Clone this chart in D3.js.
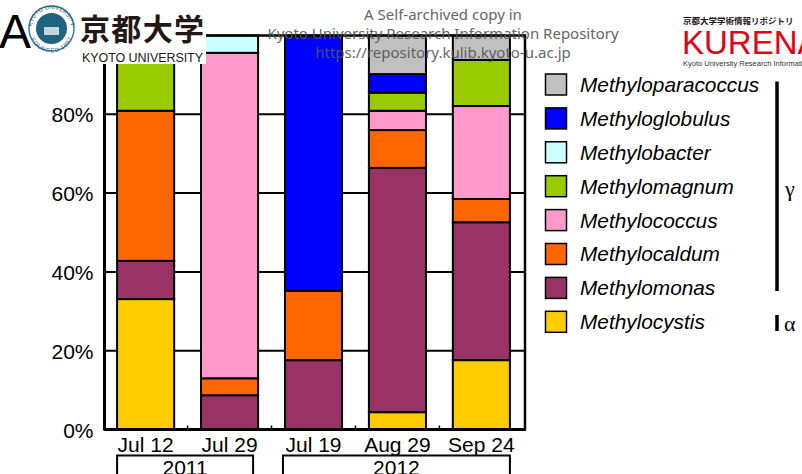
<!DOCTYPE html>
<html>
<head>
<meta charset="utf-8">
<script src="https://cdn.jsdelivr.net/npm/d3@7"></script>
<style>
  html, body { margin: 0; padding: 0; background: #fff; }
  svg { display: block; }
</style>
</head>
<body>
<svg id="chart" width="802" height="474"></svg>
<script>
// Sampling dates and the year each belongs to
const dates = ["Jul 12", "Jul 29", "Jul 19", "Aug 29", "Sep 24"];
const yearGroups = [
  { label: "2011", first: "Jul 12", last: "Jul 29", insetL: 0, insetR: 5 },
  { label: "2012", first: "Jul 19", last: "Sep 24", insetL: -2, insetR: 0 }
];

// Genera, stacked bottom to top
const genera = ["Methylocystis", "Methylomonas", "Methylocaldum", "Methylococcus",
                "Methylomagnum", "Methylobacter", "Methyloglobulus", "Methyloparacoccus"];
const generaColors = ["#FFCC00", "#993366", "#FF6600", "#FF99CC",
                      "#99CC00", "#CCFFFF", "#0000FF", "#C0C0C0"];

// Relative abundance (%) per genus, one value per date
const methylocystis     = [33.1,  0.0,  0.0,  4.4, 17.6];
const methylomonas      = [ 9.7,  8.7, 17.6, 62.0, 35.0];
const methylocaldum     = [38.1,  4.3, 17.6,  9.6,  5.9];
const methylococcus     = [ 0.0, 82.6,  0.0,  4.9, 23.6];
const methylomagnum     = [19.1,  0.0,  0.0,  4.6, 11.7];
const methylobacter     = [ 0.0,  4.4,  0.0,  0.0,  0.0];
const methyloglobulus   = [ 0.0,  0.0, 64.8,  4.7,  0.0];
const methyloparacoccus = [ 0.0,  0.0,  0.0,  9.8,  6.2];

const yTicks = [0, 20, 40, 60, 80];
const yTickLabels = ["0%", "20%", "40%", "60%", "80%"];

const seriesValues = [methylocystis, methylomonas, methylocaldum, methylococcus,
                      methylomagnum, methylobacter, methyloglobulus, methyloparacoccus];

// Build table rows for d3.stack
const table = dates.map((d, i) => {
  const row = { date: d };
  genera.forEach((g, j) => { row[g] = seriesValues[j][i]; });
  return row;
});

const svg = d3.select("#chart");
const plotL = 104.5, plotR = 525, plotT = 35.5, plotB = 429.5;

const x = d3.scaleBand().domain(dates).range([plotL, plotR - 2.5]).paddingInner(0.32).paddingOuter(0.15);
const y = d3.scaleLinear().domain([0, 100]).range([plotB, plotT]);
const color = d3.scaleOrdinal().domain(genera).range(generaColors);

const stacked = d3.stack().keys(genera)(table);

// Horizontal gridlines behind the bars
svg.append("g")
  .selectAll("line")
  .data(yTicks.filter(t => t > 0))
  .join("line")
  .attr("x1", plotL).attr("x2", plotR)
  .attr("y1", d => y(d)).attr("y2", d => y(d))
  .attr("stroke", "#000").attr("stroke-width", 2);

// Stacked bars
svg.append("g")
  .selectAll("g")
  .data(stacked)
  .join("g")
  .attr("fill", d => color(d.key))
  .selectAll("rect")
  .data(d => d.filter(s => s[1] - s[0] > 0))
  .join("rect")
  .attr("x", d => x(d.data.date))
  .attr("width", x.bandwidth())
  .attr("y", d => y(d[1]))
  .attr("height", d => y(d[0]) - y(d[1]))
  .attr("stroke", "#000")
  .attr("stroke-width", 2);

// Frame: left axis, bottom axis, top and right borders
const frame = svg.append("g").attr("fill", "none").attr("stroke", "#000");
frame.append("rect")
  .attr("x", plotL).attr("y", plotT)
  .attr("width", plotR - plotL).attr("height", plotB - plotT)
  .attr("stroke-width", 2.5);
frame.append("line")
  .attr("x1", plotL).attr("x2", plotR).attr("y1", plotB).attr("y2", plotB)
  .attr("stroke-width", 3);
frame.append("line")
  .attr("x1", plotL).attr("x2", plotL).attr("y1", plotT).attr("y2", plotB)
  .attr("stroke-width", 3);

// Small category-boundary ticks on the x axis
const gap = x.step() - x.bandwidth();
svg.append("g")
  .selectAll("line")
  .data(dates.slice(1))
  .join("line")
  .attr("x1", d => x(d) - gap / 2)
  .attr("x2", d => x(d) - gap / 2)
  .attr("y1", plotB).attr("y2", plotB - 4)
  .attr("stroke", "#000").attr("stroke-width", 1.5);

// Y axis labels
const yAxis = d3.axisLeft(y).tickValues(yTicks)
  .tickFormat((d, i) => yTickLabels[i]).tickSize(0).tickPadding(11);
svg.append("g")
  .attr("transform", `translate(${plotL},0)`)
  .call(yAxis)
  .call(g => g.select(".domain").remove())
  .call(g => g.selectAll("text")
    .attr("font-family", "Liberation Sans, Arial, sans-serif")
    .attr("font-size", 21).attr("fill", "#000").attr("dy", "0.36em"));

// X axis labels
const xAxis = d3.axisBottom(x).tickSize(0).tickPadding(8);
svg.append("g")
  .attr("transform", `translate(0,${plotB})`)
  .call(xAxis)
  .call(g => g.select(".domain").remove())
  .call(g => g.selectAll("text")
    .attr("font-family", "Liberation Sans, Arial, sans-serif")
    .attr("font-size", 21).attr("fill", "#000").attr("dy", "0.71em"));

// Year boxes under the dates
const yearG = svg.append("g");
yearGroups.forEach(yg => {
  const x0 = x(yg.first) + yg.insetL, x1 = x(yg.last) + x.bandwidth() - yg.insetR;
  yearG.append("rect")
    .attr("x", x0).attr("y", 455.5)
    .attr("width", x1 - x0).attr("height", 30)
    .attr("fill", "#fff").attr("stroke", "#000").attr("stroke-width", 2);
  yearG.append("text")
    .attr("x", (x0 + x1) / 2).attr("y", 474.5)
    .attr("text-anchor", "middle")
    .attr("font-family", "Liberation Sans, Arial, sans-serif")
    .attr("font-size", 21).text(yg.label);
});

// Legend, top genus first
const legendOrder = genera.slice().reverse();
const legend = svg.append("g");
legendOrder.forEach((g, i) => {
  const cy = 84.5 + i * 33.9;
  legend.append("rect")
    .attr("x", 545.5).attr("y", cy - 10.5)
    .attr("width", 21).attr("height", 21)
    .attr("fill", color(g)).attr("stroke", "#000").attr("stroke-width", 1.5);
  legend.append("text")
    .attr("x", 580).attr("y", cy).attr("dy", "0.36em")
    .attr("font-family", "Liberation Sans, Arial, sans-serif")
    .attr("font-style", "italic")
    .attr("font-size", 20.8).text(g);
});

// Class brackets: gamma and alpha proteobacteria
legend.append("line")
  .attr("x1", 777).attr("x2", 777).attr("y1", 81.5).attr("y2", 291)
  .attr("stroke", "#000").attr("stroke-width", 3.5);
legend.append("text")
  .attr("x", 785).attr("y", 188).attr("dy", "0.36em")
  .attr("font-family", "Liberation Serif, Times New Roman, serif")
  .attr("font-size", 22).text("γ");
legend.append("line")
  .attr("x1", 777).attr("x2", 777).attr("y1", 315).attr("y2", 331)
  .attr("stroke", "#000").attr("stroke-width", 3.5);
legend.append("text")
  .attr("x", 784).attr("y", 323).attr("dy", "0.36em")
  .attr("font-family", "Liberation Serif, Times New Roman, serif")
  .attr("font-size", 22).text("α");

// Panel letter
svg.append("text")
  .attr("x", -1).attr("y", 48)
  .attr("font-family", "Liberation Sans, Arial, sans-serif")
  .attr("font-size", 48).text("A");

// University emblem and wordmark
const emb = svg.append("g");
emb.append("rect").attr("x", 75).attr("y", 0).attr("width", 131).attr("height", 64).attr("fill", "#fff");
emb.append("circle").attr("cx", 51.5).attr("cy", 28.5).attr("r", 22.5)
  .attr("fill", "#fff").attr("stroke", "#2b6f86").attr("stroke-width", 1.4);
emb.append("circle").attr("cx", 51.5).attr("cy", 28.5).attr("r", 15.5)
  .attr("fill", "#1f6380");
emb.append("path").attr("id", "embArc")
  .attr("d", "M 32 28.5 A 19.5 19.5 0 0 1 71 28.5").attr("fill", "none");
emb.append("path").attr("id", "embArc2")
  .attr("d", "M 33.5 30.5 A 18 18 0 0 0 69.5 30.5").attr("fill", "none");
emb.append("text").attr("font-family", "Liberation Sans, Arial, sans-serif")
  .attr("font-size", 5.8).attr("fill", "#1f6380")
  .append("textPath").attr("href", "#embArc").attr("startOffset", "50%")
  .attr("text-anchor", "middle").text("KYOTO UNIVERSITY");
emb.append("text").attr("font-family", "Liberation Sans, Arial, sans-serif")
  .attr("font-size", 5.8).attr("fill", "#1f6380").attr("dy", "4")
  .append("textPath").attr("href", "#embArc2").attr("startOffset", "50%")
  .attr("text-anchor", "middle").text("FOUNDED 1897");
emb.append("rect").attr("x", 44).attr("y", 27).attr("width", 15).attr("height", 8)
  .attr("fill", "#dfe8ec").attr("opacity", 0.85);
emb.append("text")
  .attr("x", 80).attr("y", 40)
  .attr("font-family", "Noto Sans CJK JP, sans-serif")
  .attr("font-weight", 700)
  .attr("font-size", 30).attr("fill", "#231815")
  .attr("textLength", 124).text("京都大学");
emb.append("text")
  .attr("x", 82).attr("y", 62)
  .attr("font-family", "Liberation Sans, Arial, sans-serif")
  .attr("font-size", 12.5).attr("fill", "#231815")
  .attr("textLength", 121).text("KYOTO UNIVERSITY");

// Repository notice
const note = svg.append("g")
  .attr("font-family", "Noto Sans, sans-serif")
  .attr("font-size", 15).attr("fill", "#555").attr("text-anchor", "middle")
  .attr("opacity", 0.9);
note.append("text").attr("x", 443).attr("y", 20).text("A Self-archived copy in");
note.append("text").attr("x", 443).attr("y", 39).text("Kyoto University Research Information Repository");
note.append("text").attr("x", 443).attr("y", 58).text("https://repository.kulib.kyoto-u.ac.jp");

// Repository mark, top right
const kr = svg.append("g");
kr.append("text").attr("x", 683).attr("y", 23.5)
  .attr("font-family", "Noto Sans CJK JP, sans-serif")
  .attr("font-weight", 700)
  .attr("font-size", 8.5).attr("fill", "#231815").text("京都大学学術情報リポジトリ");
kr.append("text").attr("x", 682).attr("y", 53.5)
  .attr("font-family", "Liberation Sans, Arial, sans-serif")
  .attr("font-size", 33).attr("fill", "#e60012").text("KURENAI");
kr.append("text").attr("x", 683).attr("y", 65.5)
  .attr("font-family", "Liberation Sans, Arial, sans-serif")
  .attr("font-size", 7.5).attr("fill", "#333").text("Kyoto University Research Information Repository");
</script>
</body>
</html>
